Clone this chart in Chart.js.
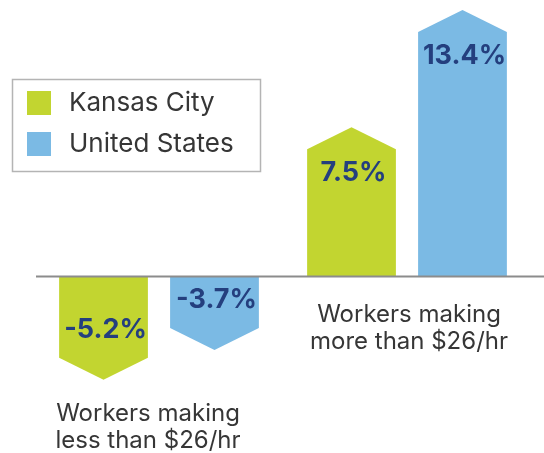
<!DOCTYPE html>
<html>
<head>
<style>
    body { margin: 0; background: #fff; }
    #wrap { width: 544px; height: 453px; position: relative; }
</style>
</head>
<body>
<div id="wrap">
    <canvas id="chart"></canvas>
</div>

<script src="https://cdn.jsdelivr.net/npm/chart.js"></script>
<script type="text/javascript">
    // data
    const categories = ['Workers making less than $26/hr', 'Workers making more than $26/hr'];
    const categoryLines = [['Workers making', 'less than $26/hr'], ['Workers making', 'more than $26/hr']];
    const kansasCity = [-5.2, 7.5];
    const unitedStates = [-3.7, 13.4];
    const seriesNames = ['Kansas City', 'United States'];
    const seriesColors = ['#c2d530', '#7bbae4'];

    const FONT = 'Inter, "Open Sans", sans-serif';
    const ARROW = 22;

    // draws every bar as an arrow, plus value labels, baseline, legend and category text
    const arrowBars = {
        id: 'arrowBars',
        beforeDatasetsDraw(chart) {
            const ctx = chart.ctx;
            const yScale = chart.scales.y;
            const xScale = chart.scales.x;
            const zero = yScale.getPixelForValue(0);

            chart.data.datasets.forEach((ds, di) => {
                chart.getDatasetMeta(di).data.forEach((bar, i) => {
                    const v = ds.data[i];
                    const half = bar.width / 2;
                    const dir = v >= 0 ? 1 : -1;
                    const shoulder = bar.y + dir * ARROW;
                    ctx.save();
                    ctx.fillStyle = ds.backgroundColor;
                    ctx.beginPath();
                    ctx.moveTo(bar.x - half, zero);
                    ctx.lineTo(bar.x - half, shoulder);
                    ctx.lineTo(bar.x, bar.y);
                    ctx.lineTo(bar.x + half, shoulder);
                    ctx.lineTo(bar.x + half, zero);
                    ctx.closePath();
                    ctx.fill();

                    ctx.fillStyle = '#243f7e';
                    ctx.font = 'bold 27px ' + FONT;
                    ctx.textAlign = 'center';
                    ctx.textBaseline = 'middle';
                    ctx.fillText(v.toFixed(1) + '%', bar.x + 2, bar.y + dir * (v >= 0 ? 46 : 50));
                    ctx.restore();
                });
            });

            // baseline
            ctx.save();
            ctx.strokeStyle = '#8c8c8c';
            ctx.lineWidth = 2;
            ctx.beginPath();
            ctx.moveTo(36, zero);
            ctx.lineTo(chart.width, zero);
            ctx.stroke();

            // category labels
            ctx.fillStyle = '#363636';
            ctx.font = '24px ' + FONT;
            ctx.textAlign = 'center';
            ctx.textBaseline = 'alphabetic';
            categoryLines.forEach((lines, i) => {
                const x = xScale.getPixelForValue(i) + (i === 0 ? -11 : 2);
                const y0 = i === 0 ? 421 : 322;
                lines.forEach((t, k) => ctx.fillText(t, x, y0 + k * 27));
            });

            // legend box
            ctx.strokeStyle = '#b4b4b4';
            ctx.lineWidth = 1.5;
            ctx.strokeRect(12.5, 79.5, 248, 92);
            ctx.font = '26px ' + FONT;
            ctx.textAlign = 'left';
            ctx.textBaseline = 'middle';
            chart.data.datasets.forEach((ds, di) => {
                const cy = 103 + di * 41;
                ctx.fillStyle = ds.backgroundColor;
                ctx.fillRect(27, cy - 12, 24, 24);
                ctx.fillStyle = '#363636';
                ctx.fillText(ds.label, 69, cy);
            });
            ctx.restore();
            return false;
        }
    };

    new Chart(document.getElementById('chart'), {
        type: 'bar',
        data: {
            labels: categories,
            datasets: [
                { label: seriesNames[0], data: kansasCity, backgroundColor: seriesColors[0] },
                { label: seriesNames[1], data: unitedStates, backgroundColor: seriesColors[1] }
            ]
        },
        options: {
            responsive: true,
            maintainAspectRatio: false,
            animation: false,
            categoryPercentage: 0.895,
            barPercentage: 0.8,
            layout: { padding: { left: 35, right: 13, top: 0, bottom: 0 } },
            scales: {
                x: { display: false },
                y: { display: false, min: -8.88, max: 13.9 }
            },
            plugins: {
                legend: { display: false },
                tooltip: { enabled: false }
            }
        },
        plugins: [arrowBars]
    });
</script>
</body>
</html>
